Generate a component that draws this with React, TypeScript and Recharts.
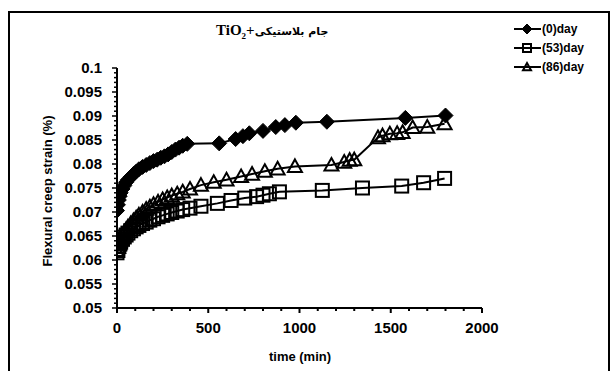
import { LineChart, Line, XAxis, YAxis } from "recharts";

// (0) day series, diamonds
const day0Time = [0, 5, 10, 15, 20, 30, 40, 50, 60, 75, 90, 105, 120, 140, 160, 180, 200, 220, 240, 260, 280, 300, 320, 340, 360, 385, 560, 650, 690, 725, 800, 870, 920, 980, 1150, 1580, 1800];
const day0Strain = [0.0703, 0.0715, 0.0725, 0.0733, 0.074, 0.0748, 0.0755, 0.0762, 0.0767, 0.0773, 0.0779, 0.0784, 0.0789, 0.0794, 0.0798, 0.0802, 0.0806, 0.0809, 0.0813, 0.0816, 0.082, 0.0825, 0.083, 0.0834, 0.0838, 0.0842, 0.0843, 0.0852, 0.0858, 0.0864, 0.0869, 0.0877, 0.0881, 0.0886, 0.0888, 0.0896, 0.0901];

// (53) day series, open squares
const day53Time = [0, 5, 10, 15, 20, 30, 40, 50, 60, 75, 90, 105, 120, 140, 160, 180, 200, 225, 250, 275, 300, 330, 360, 400, 460, 550, 625, 700, 765, 800, 835, 890, 1125, 1345, 1560, 1680, 1795];
const day53Strain = [0.0615, 0.0622, 0.0628, 0.0633, 0.0637, 0.0643, 0.0648, 0.0652, 0.0656, 0.0661, 0.0665, 0.0669, 0.0672, 0.0676, 0.0679, 0.0683, 0.0686, 0.069, 0.0693, 0.0696, 0.0699, 0.0702, 0.0705, 0.0708, 0.0712, 0.0718, 0.0724, 0.0729, 0.0732, 0.0735, 0.0738, 0.0742, 0.0745, 0.075, 0.0754, 0.0761, 0.077];

// (86) day series, open triangles
const day86Time = [0, 5, 10, 15, 20, 30, 40, 50, 60, 75, 90, 105, 120, 140, 160, 180, 200, 225, 250, 275, 300, 330, 360, 400, 460, 530, 600, 680, 740, 810, 880, 975, 1175, 1245, 1275, 1300, 1430, 1455, 1495, 1535, 1565, 1620, 1700, 1795];
const day86Strain = [0.0618, 0.0626, 0.0633, 0.0639, 0.0644, 0.0651, 0.0658, 0.0664, 0.0669, 0.0676, 0.0682, 0.0688, 0.0694, 0.07, 0.0706, 0.0711, 0.0716, 0.0721, 0.0726, 0.073, 0.0734, 0.0738, 0.0742, 0.0748, 0.0756, 0.0762, 0.0767, 0.0774, 0.0779, 0.0785, 0.079, 0.0795, 0.0798, 0.0804, 0.0808, 0.0809, 0.0855, 0.0859, 0.0863, 0.0864, 0.0866, 0.0876, 0.0877, 0.0884];

const seriesNames = ["(0)day", "(53)day", "(86)day"];

// axis ticks: majors are labelled, minors are only short marks
const xMajorTicks = [0, 500, 1000, 1500, 2000];
const yMajorTicks = [0.05, 0.055, 0.06, 0.065, 0.07, 0.075, 0.08, 0.085, 0.09, 0.095, 0.1];
const xAllTicks = Array.from({ length: 21 }, (_, i) => i * 100);
const yAllTicks = Array.from({ length: 51 }, (_, i) => Number((0.05 + i * 0.001).toFixed(3)));

const zip = (ts: number[], vs: number[]) => ts.map((t, i) => ({ t, v: vs[i] }));
const day0Data = zip(day0Time, day0Strain);
const day53Data = zip(day53Time, day53Strain);
const day86Data = zip(day86Time, day86Strain);

const FONT = "'Liberation Sans', Arial, sans-serif";

const isMajor = (v: number, list: number[]) => list.some((m) => Math.abs(m - v) < 1e-7);

function XTick({ x, y, payload }: any) {
  const major = isMajor(payload.value, xMajorTicks);
  return (
    <g>
      <line x1={x} x2={x} y1={y} y2={y + (major ? 5 : 3)} stroke="#000" strokeWidth={2} />
      {major && (
        <text x={x} y={y + 25} textAnchor="middle" fontSize={15} fontWeight="bold" fontFamily={FONT} fill="#000">
          {payload.value}
        </text>
      )}
    </g>
  );
}

function YTick({ x, y, payload }: any) {
  const major = isMajor(payload.value, yMajorTicks);
  return (
    <g>
      <line x1={x - (major ? 5 : 3)} x2={x} y1={y} y2={y} stroke="#000" strokeWidth={1.5} />
      {major && (
        <text x={x - 15} y={y} dy="0.35em" textAnchor="end" fontSize={15} fontWeight="bold" fontFamily={FONT} fill="#000">
          {String(payload.value)}
        </text>
      )}
    </g>
  );
}

function Diamond({ cx, cy, r = 7.5 }: any) {
  return <polygon points={`${cx},${cy - r} ${cx + r},${cy} ${cx},${cy + r} ${cx - r},${cy}`} fill="#000" stroke="#000" />;
}

function Square({ cx, cy, r = 6.5 }: any) {
  return <rect x={cx - r} y={cy - r} width={r * 2} height={r * 2} fill="none" stroke="#000" strokeWidth={2} />;
}

function Triangle({ cx, cy, r = 7 }: any) {
  return (
    <polygon
      points={`${cx},${cy - r} ${cx + r},${cy + r * 0.8} ${cx - r},${cy + r * 0.8}`}
      fill="none"
      stroke="#000"
      strokeWidth={2}
      strokeLinejoin="miter"
    />
  );
}

const markers = [Diamond, Square, Triangle];

function LegendBox() {
  return (
    <div style={{ position: "absolute", left: 513, top: 19, fontFamily: FONT, fontSize: 12, fontWeight: "bold" }}>
      {seriesNames.map((name, i) => {
        const M = markers[i];
        return (
          <div key={name} style={{ display: "flex", alignItems: "center", height: 19 }}>
            <svg width={29} height={14}>
              <line x1={1} x2={28} y1={7} y2={7} stroke="#000" strokeWidth={2} />
              <M cx={14} cy={7} r={i === 0 ? 5 : 4} />
            </svg>
            <span>{name}</span>
          </div>
        );
      })}
    </div>
  );
}

export default function App() {
  return (
    <div style={{ position: "absolute", left: 0, top: 0, width: 614, height: 371, background: "#fff", overflow: "hidden" }}>
      <div
        style={{
          position: "absolute",
          left: 8,
          top: 11,
          width: 602,
          height: 380,
          border: "2px solid #000",
          boxSizing: "border-box",
        }}
      />
      <div style={{ position: "absolute", left: 0, top: 0 }}>
        <LineChart width={614} height={371} margin={{ top: 68, right: 132, bottom: 23, left: 57 }}>
          <XAxis
            type="number"
            dataKey="t"
            domain={[0, 2000]}
            ticks={xAllTicks}
            interval={0}
            allowDataOverflow
            height={40}
            tickSize={0}
            tickMargin={0}
            tickLine={false}
            axisLine={{ stroke: "#000", strokeWidth: 2 }}
            tick={<XTick />}
          />
          <YAxis
            type="number"
            dataKey="v"
            domain={[0.05, 0.1]}
            ticks={yAllTicks}
            interval={0}
            allowDataOverflow
            width={60}
            tickSize={0}
            tickMargin={0}
            tickLine={false}
            axisLine={{ stroke: "#000", strokeWidth: 2 }}
            tick={<YTick />}
          />
          <Line
            data={day0Data}
            dataKey="v"
            name={seriesNames[0]}
            type="linear"
            stroke="#000"
            strokeWidth={2}
            isAnimationActive={false}
            dot={(p: any) => <Diamond key={`d0-${p.index}`} cx={p.cx} cy={p.cy} />}
          />
          <Line
            data={day53Data}
            dataKey="v"
            name={seriesNames[1]}
            type="linear"
            stroke="#000"
            strokeWidth={2}
            isAnimationActive={false}
            dot={(p: any) => <Square key={`d53-${p.index}`} cx={p.cx} cy={p.cy} />}
          />
          <Line
            data={day86Data}
            dataKey="v"
            name={seriesNames[2]}
            type="linear"
            stroke="#000"
            strokeWidth={2}
            isAnimationActive={false}
            dot={(p: any) => <Triangle key={`d86-${p.index}`} cx={p.cx} cy={p.cy} />}
          />
        </LineChart>
      </div>
      <div
        style={{
          position: "absolute",
          left: 216,
          top: 21,
          whiteSpace: "nowrap",
          direction: "ltr",
          fontWeight: "bold",
          color: "#000",
        }}
      >
        <span style={{ fontFamily: "'Liberation Serif', serif", fontSize: 15 }}>
          TiO<sub style={{ fontSize: 9 }}>2</sub>+
        </span>
        <span style={{ fontFamily: "'DejaVu Sans', sans-serif", fontSize: 11, fontWeight: "bold" }}>جام بلاستیکی</span>
      </div>
      <LegendBox />
      <div
        style={{
          position: "absolute",
          left: 47,
          top: 191,
          transform: "translate(-50%, -50%) rotate(-90deg)",
          whiteSpace: "nowrap",
          fontFamily: FONT,
          fontSize: 13,
          fontWeight: "bold",
        }}
      >
        Flexural creep strain (%)
      </div>
      <div
        style={{
          position: "absolute",
          left: 300,
          top: 356,
          transform: "translate(-50%, -50%)",
          whiteSpace: "nowrap",
          fontFamily: FONT,
          fontSize: 13,
          fontWeight: "bold",
        }}
      >
        time (min)
      </div>
    </div>
  );
}
